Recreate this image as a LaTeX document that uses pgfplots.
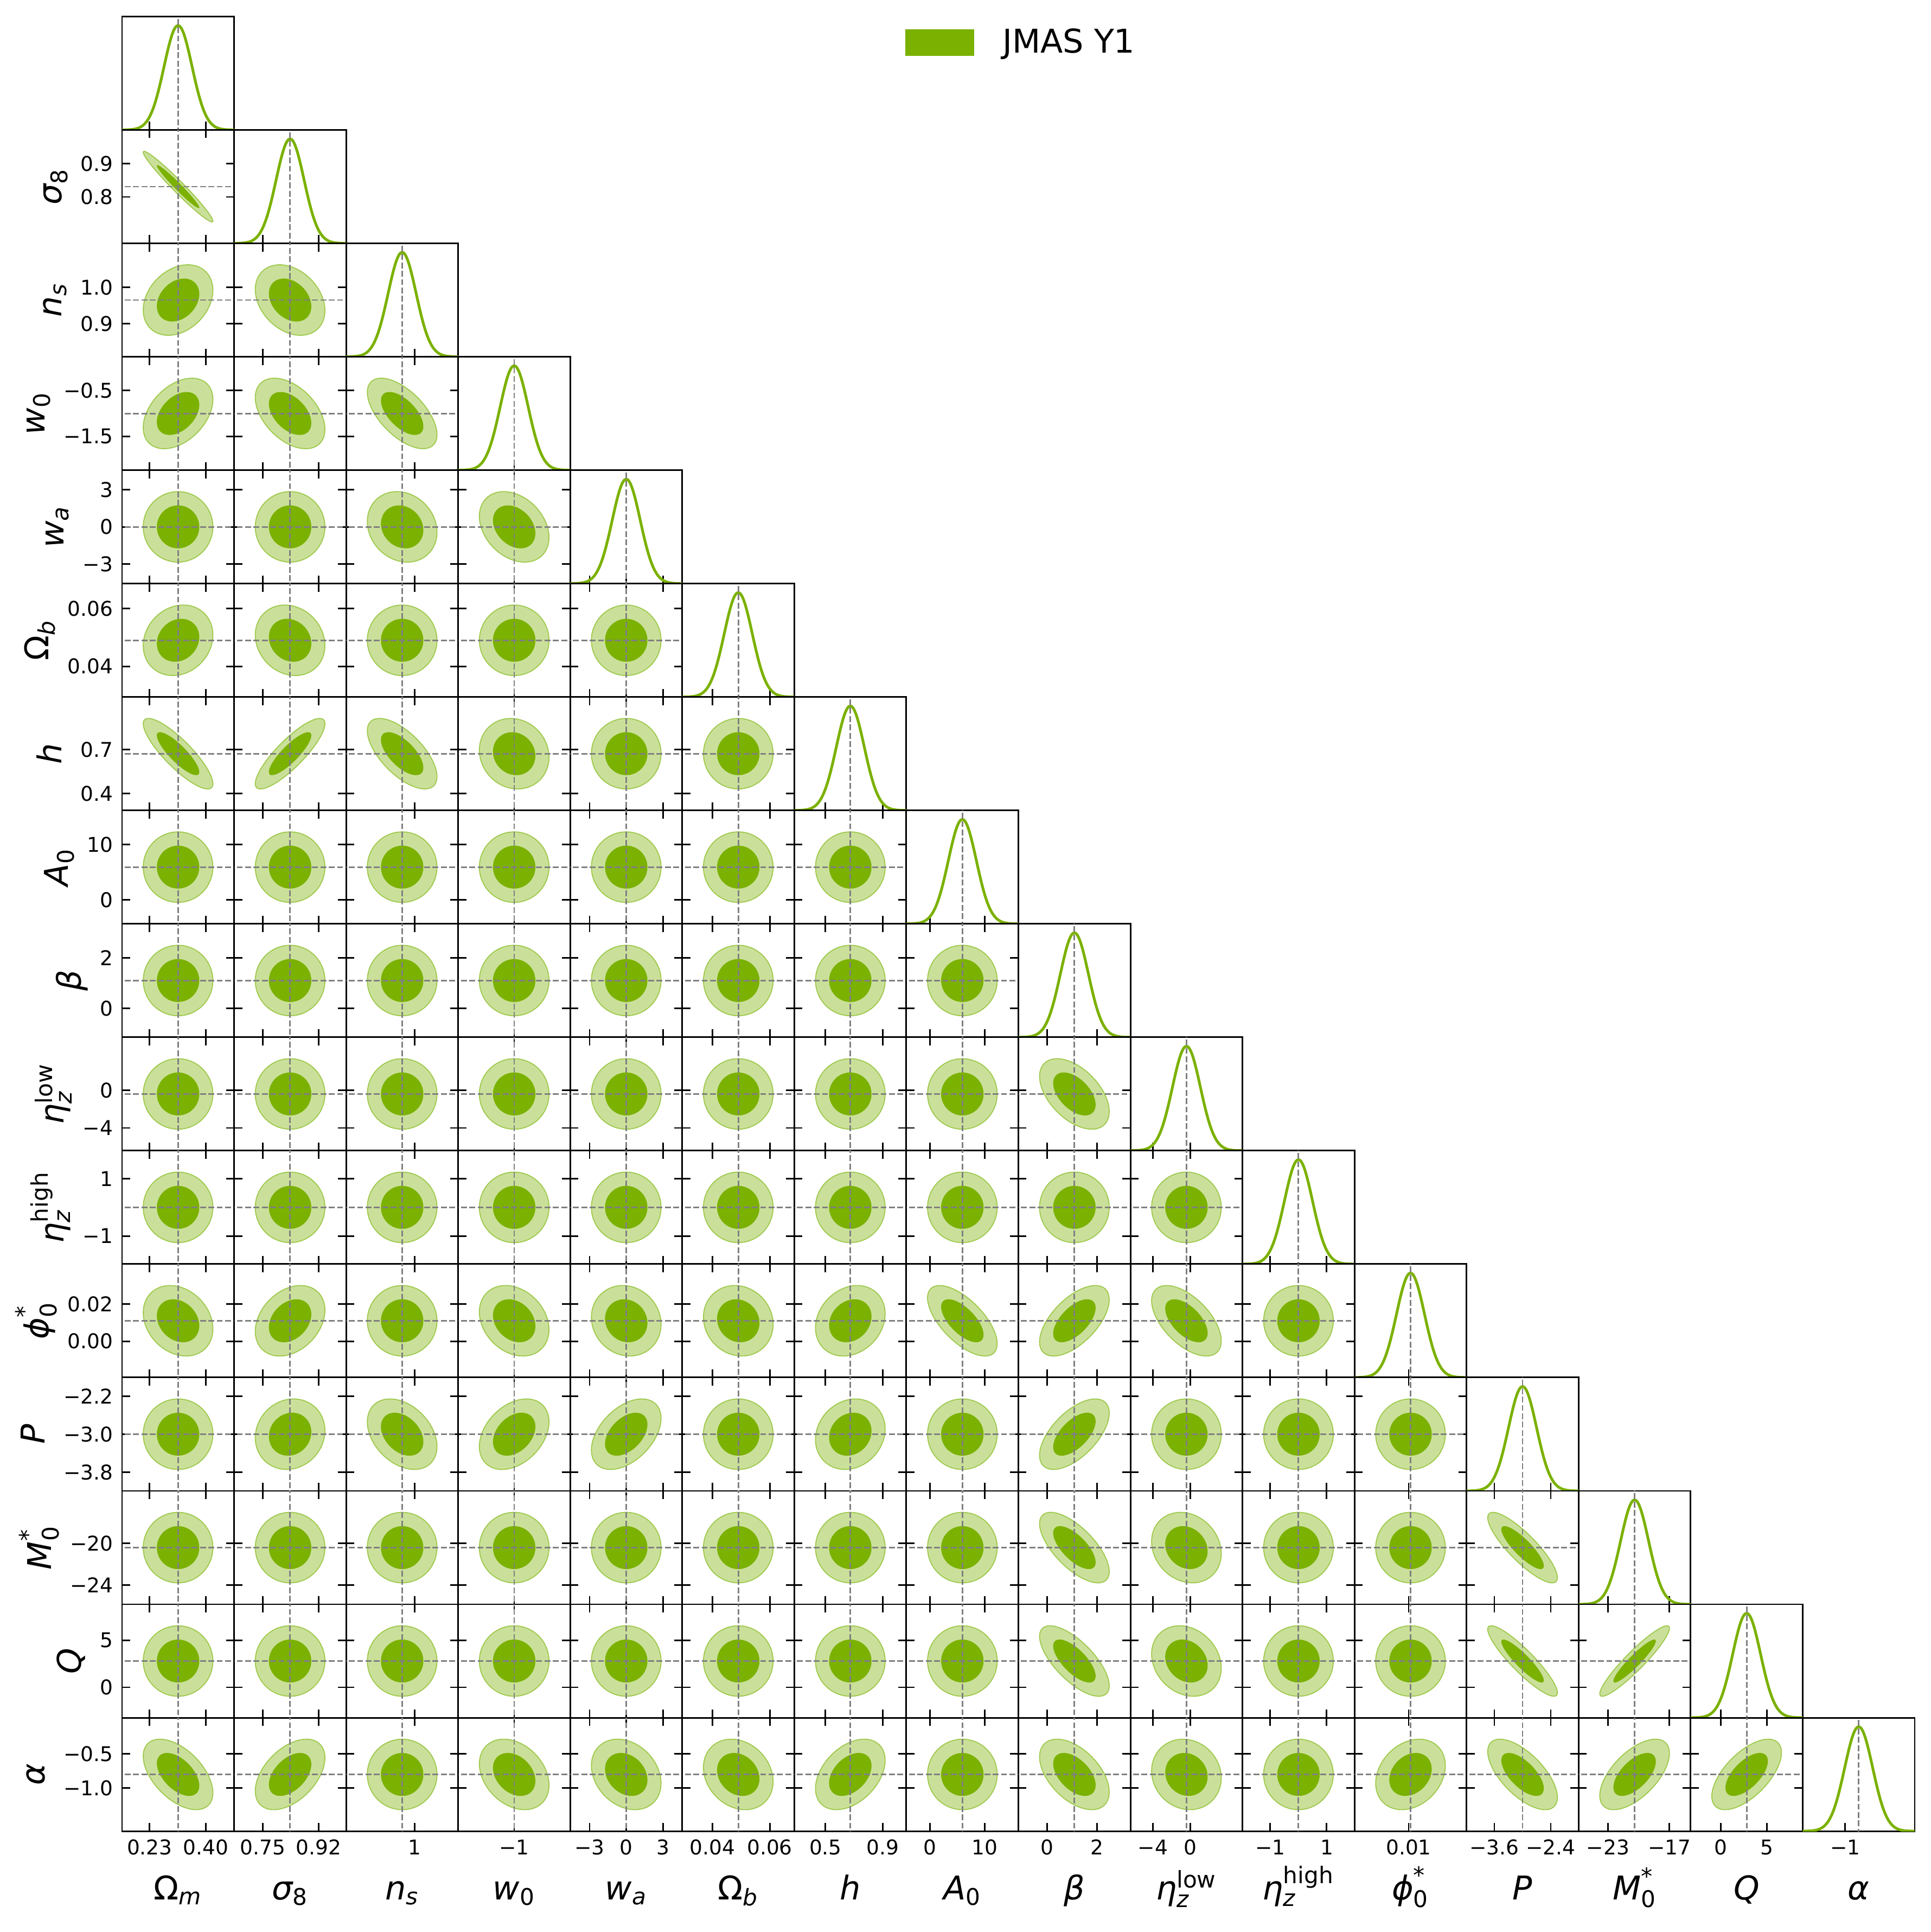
\documentclass[border=0pt]{standalone}
\usepackage{amsmath}
\usepackage{fontspec}
\setmainfont{DejaVu Sans}
\usepackage{pgfplots}
\usepackage{pgfplotstable}
\pgfplotsset{compat=1.18}

\definecolor{jg}{RGB}{123,177,0}
\definecolor{jgl}{RGB}{202,224,154}
\definecolor{jge}{RGB}{160,202,80}
\definecolor{tg}{RGB}{128,128,128}

\newcommand\mi[1]{\text{\itshape #1}}
\newcommand\mr[1]{\text{#1}}

% unit circle (for contour shapes)
\pgfplotstableread{
u v
1.0000 0.0000
0.9962 0.0872
0.9848 0.1736
0.9659 0.2588
0.9397 0.3420
0.9063 0.4226
0.8660 0.5000
0.8192 0.5736
0.7660 0.6428
0.7071 0.7071
0.6428 0.7660
0.5736 0.8192
0.5000 0.8660
0.4226 0.9063
0.3420 0.9397
0.2588 0.9659
0.1736 0.9848
0.0872 0.9962
0.0000 1.0000
-0.0872 0.9962
-0.1736 0.9848
-0.2588 0.9659
-0.3420 0.9397
-0.4226 0.9063
-0.5000 0.8660
-0.5736 0.8192
-0.6428 0.7660
-0.7071 0.7071
-0.7660 0.6428
-0.8192 0.5736
-0.8660 0.5000
-0.9063 0.4226
-0.9397 0.3420
-0.9659 0.2588
-0.9848 0.1736
-0.9962 0.0872
-1.0000 0.0000
-0.9962 -0.0872
-0.9848 -0.1736
-0.9659 -0.2588
-0.9397 -0.3420
-0.9063 -0.4226
-0.8660 -0.5000
-0.8192 -0.5736
-0.7660 -0.6428
-0.7071 -0.7071
-0.6428 -0.7660
-0.5736 -0.8192
-0.5000 -0.8660
-0.4226 -0.9063
-0.3420 -0.9397
-0.2588 -0.9659
-0.1736 -0.9848
-0.0872 -0.9962
0.0000 -1.0000
0.0872 -0.9962
0.1736 -0.9848
0.2588 -0.9659
0.3420 -0.9397
0.4226 -0.9063
0.5000 -0.8660
0.5736 -0.8192
0.6428 -0.7660
0.7071 -0.7071
0.7660 -0.6428
0.8192 -0.5736
0.8660 -0.5000
0.9063 -0.4226
0.9397 -0.3420
0.9659 -0.2588
0.9848 -0.1736
0.9962 -0.0872
1.0000 0.0000
}\circtab

% standardised 1D marginal shape
\pgfplotstableread{
u g
-4.0 0.00034
-3.8 0.00073
-3.6 0.00153
-3.4 0.00308
-3.2 0.00596
-3.0 0.01111
-2.9 0.01492
-2.8 0.01984
-2.7 0.02612
-2.6 0.03405
-2.5 0.04394
-2.4 0.05613
-2.3 0.07101
-2.2 0.08892
-2.1 0.11025
-2.0 0.13534
-1.9 0.16448
-1.8 0.19790
-1.7 0.23575
-1.6 0.27804
-1.5 0.32465
-1.4 0.37531
-1.3 0.42956
-1.2 0.48675
-1.1 0.54607
-1.0 0.60653
-0.9 0.66698
-0.8 0.72615
-0.7 0.78270
-0.6 0.83527
-0.5 0.88250
-0.4 0.92312
-0.3 0.95600
-0.2 0.98020
-0.1 0.99501
0.0 1.00000
0.1 0.99501
0.2 0.98020
0.3 0.95600
0.4 0.92312
0.5 0.88250
0.6 0.83527
0.7 0.78270
0.8 0.72615
0.9 0.66698
1.0 0.60653
1.1 0.54607
1.2 0.48675
1.3 0.42956
1.4 0.37531
1.5 0.32465
1.6 0.27804
1.7 0.23575
1.8 0.19790
1.9 0.16448
2.0 0.13534
2.1 0.11025
2.2 0.08892
2.3 0.07101
2.4 0.05613
2.5 0.04394
2.6 0.03405
2.7 0.02612
2.8 0.01984
2.9 0.01492
3.0 0.01111
3.2 0.00596
3.4 0.00308
3.6 0.00153
3.8 0.00073
4.0 0.00034
}\gausstab

\pgfplotstableread{
t d
-5 0
5 0
}\lintab

% parameter: index, fiducial (mean), sigma
\newcommand\defpar[3]{\expandafter\def\csname pm#1\endcsname{#2}\expandafter\def\csname ps#1\endcsname{#3}}
\defpar{0}{0.316}{0.0423}
\defpar{1}{0.831}{0.0425}
\defpar{2}{0.965}{0.039}
\defpar{3}{-1.0}{0.31}
\defpar{4}{0.0}{1.147}
\defpar{5}{0.049}{0.0049}
\defpar{6}{0.673}{0.0975}
\defpar{7}{5.92}{2.55}
\defpar{8}{1.1}{0.56}
\defpar{9}{-0.4}{1.5}
\defpar{10}{0.0}{0.496}
\defpar{11}{0.011}{0.0076}
\defpar{12}{-3.0}{0.298}
\defpar{13}{-20.4}{1.37}
\defpar{14}{2.8}{1.51}
\defpar{15}{-0.8}{0.2075}

% labels
\expandafter\def\csname lab0\endcsname{$\mr{Ω}_{\mi{m}}$}
\expandafter\def\csname lab1\endcsname{$\mi{σ}_{\mr{8}}$}
\expandafter\def\csname lab2\endcsname{$\mi{n}_{\mi{s}}$}
\expandafter\def\csname lab3\endcsname{$\mi{w}_{\mr{0}}$}
\expandafter\def\csname lab4\endcsname{$\mi{w}_{\mi{a}}$}
\expandafter\def\csname lab5\endcsname{$\mr{Ω}_{\mi{b}}$}
\expandafter\def\csname lab6\endcsname{$\mi{h}$}
\expandafter\def\csname lab7\endcsname{$\mi{A}_{\mr{0}}$}
\expandafter\def\csname lab8\endcsname{$\mi{β}$}
\expandafter\def\csname lab9\endcsname{$\mi{η}_{\mi{z}}^{\mr{low}}$}
\expandafter\def\csname lab10\endcsname{$\mi{η}_{\mi{z}}^{\mr{high}}$}
\expandafter\def\csname lab11\endcsname{$\mi{ϕ}_{\mr{0}}^{\mr{*}}$}
\expandafter\def\csname lab12\endcsname{$\mi{P}$}
\expandafter\def\csname lab13\endcsname{$\mi{M}_{\mr{0}}^{\mr{*}}$}
\expandafter\def\csname lab14\endcsname{$\mi{Q}$}
\expandafter\def\csname lab15\endcsname{$\mi{α}$}

% correlation coefficients (row, column)
\newcommand\setrho[3]{\expandafter\def\csname rho@#1@#2\endcsname{#3}}
\setrho{1}{0}{-0.975}
\setrho{2}{0}{0.28}\setrho{2}{1}{-0.3}
\setrho{3}{0}{0.4}\setrho{3}{1}{-0.45}\setrho{3}{2}{-0.6}
\setrho{4}{2}{-0.15}\setrho{4}{3}{-0.3}
\setrho{5}{0}{0.15}\setrho{5}{1}{-0.15}
\setrho{6}{0}{-0.85}\setrho{6}{1}{0.85}\setrho{6}{2}{-0.65}\setrho{6}{3}{-0.1}
\setrho{9}{8}{-0.5}
\setrho{11}{0}{-0.23}\setrho{11}{1}{0.3}\setrho{11}{3}{-0.25}\setrho{11}{4}{-0.1}\setrho{11}{5}{-0.1}\setrho{11}{6}{0.2}\setrho{11}{7}{-0.65}\setrho{11}{8}{0.6}\setrho{11}{9}{-0.57}
\setrho{12}{1}{0.1}\setrho{12}{2}{-0.35}\setrho{12}{3}{0.35}\setrho{12}{4}{0.45}\setrho{12}{6}{0.15}\setrho{12}{8}{0.6}
\setrho{13}{8}{-0.68}\setrho{13}{9}{-0.17}\setrho{13}{12}{-0.85}
\setrho{14}{8}{-0.7}\setrho{14}{9}{-0.2}\setrho{14}{12}{-0.9}\setrho{14}{13}{0.93}
\setrho{15}{0}{-0.52}\setrho{15}{1}{0.47}\setrho{15}{3}{-0.3}\setrho{15}{4}{-0.25}\setrho{15}{5}{-0.2}\setrho{15}{6}{0.4}\setrho{15}{8}{-0.5}\setrho{15}{9}{-0.1}\setrho{15}{11}{0.25}\setrho{15}{12}{-0.65}\setrho{15}{13}{0.6}\setrho{15}{14}{0.62}

\pgfplotsset{
 px0/.style={xmin=0.1468,xmax=0.4852,xtick={0.23,0.40}}, pxl0/.style={xticklabels={0.23,0.40}},
 px1/.style={xmin=0.661,xmax=1.001,xtick={0.748,0.918}}, pxl1/.style={xticklabels={0.75,0.92}},
 py1/.style={ymin=0.661,ymax=1.001,ytick={0.8,0.9}}, pyl1/.style={yticklabels={0.8,0.9}},
 px2/.style={xmin=0.809,xmax=1.121,xtick={1}}, pxl2/.style={xticklabels={1}},
 py2/.style={ymin=0.809,ymax=1.121,ytick={0.9,1.0}}, pyl2/.style={yticklabels={0.9,1.0}},
 px3/.style={xmin=-2.24,xmax=0.24,xtick={-1}}, pxl3/.style={xticklabels={−1}},
 py3/.style={ymin=-2.24,ymax=0.24,ytick={-1.5,-0.5}}, pyl3/.style={yticklabels={−1.5,−0.5}},
 px4/.style={xmin=-4.588,xmax=4.588,xtick={-3,0,3}}, pxl4/.style={xticklabels={−3,0,3}},
 py4/.style={ymin=-4.588,ymax=4.588,ytick={-3,0,3}}, pyl4/.style={yticklabels={−3,0,3}},
 px5/.style={xmin=0.0294,xmax=0.0686,xtick={0.04,0.06}}, pxl5/.style={xticklabels={0.04,0.06}},
 py5/.style={ymin=0.0294,ymax=0.0686,ytick={0.04,0.06}}, pyl5/.style={yticklabels={0.04,0.06}},
 px6/.style={xmin=0.283,xmax=1.063,xtick={0.5,0.9}}, pxl6/.style={xticklabels={0.5,0.9}},
 py6/.style={ymin=0.283,ymax=1.063,ytick={0.4,0.7}}, pyl6/.style={yticklabels={0.4,0.7}},
 px7/.style={xmin=-4.28,xmax=16.12,xtick={0,10}}, pxl7/.style={xticklabels={0,10}},
 py7/.style={ymin=-4.28,ymax=16.12,ytick={0,10}}, pyl7/.style={yticklabels={0,10}},
 px8/.style={xmin=-1.14,xmax=3.34,xtick={0,2}}, pxl8/.style={xticklabels={0,2}},
 py8/.style={ymin=-1.14,ymax=3.34,ytick={0,2}}, pyl8/.style={yticklabels={0,2}},
 px9/.style={xmin=-6.4,xmax=5.6,xtick={-4,0}}, pxl9/.style={xticklabels={−4,0}},
 py9/.style={ymin=-6.4,ymax=5.6,ytick={-4,0}}, pyl9/.style={yticklabels={−4,0}},
 px10/.style={xmin=-1.984,xmax=1.984,xtick={-1,1}}, pxl10/.style={xticklabels={−1,1}},
 py10/.style={ymin=-1.984,ymax=1.984,ytick={-1,1}}, pyl10/.style={yticklabels={−1,1}},
 px11/.style={xmin=-0.0194,xmax=0.0414,xtick={0.01}}, pxl11/.style={xticklabels={0.01}},
 py11/.style={ymin=-0.0194,ymax=0.0414,ytick={0,0.02}}, pyl11/.style={yticklabels={0.00,0.02}},
 px12/.style={xmin=-4.192,xmax=-1.808,xtick={-3.6,-2.4}}, pxl12/.style={xticklabels={−3.6,−2.4}},
 py12/.style={ymin=-4.192,ymax=-1.808,ytick={-3.8,-3.0,-2.2}}, pyl12/.style={yticklabels={−3.8,−3.0,−2.2}},
 px13/.style={xmin=-25.88,xmax=-14.92,xtick={-23,-17}}, pxl13/.style={xticklabels={−23,−17}},
 py13/.style={ymin=-25.88,ymax=-14.92,ytick={-24,-20}}, pyl13/.style={yticklabels={−24,−20}},
 px14/.style={xmin=-3.24,xmax=8.84,xtick={0,5}}, pxl14/.style={xticklabels={0,5}},
 py14/.style={ymin=-3.24,ymax=8.84,ytick={0,5}}, pyl14/.style={yticklabels={0,5}},
 px15/.style={xmin=-1.63,xmax=0.03,xtick={-1}}, pxl15/.style={xticklabels={−1}},
 py15/.style={ymin=-1.63,ymax=0.03,ytick={-1.0,-0.5}}, pyl15/.style={yticklabels={−1.0,−0.5}},
 cpanel/.style={
  scale only axis, width=49.574pt, height=50.17pt, anchor=north west,
  axis line style={line width=0.7pt},
  tick align=inside, major tick length=3.6pt,
  tick style={black, line width=0.7pt},
  minor tick num=0, scaled ticks=false, clip=true,
  tick label style={font=\fontsize{9}{11}\selectfont},
  xticklabel style={inner sep=0pt, anchor=north, yshift=-3.6pt},
  yticklabel style={inner sep=0pt, anchor=east, xshift=-3.84pt},
  label style={font=\fontsize{14.5}{17}\selectfont},
  xlabel style={at={(axis description cs:0.5,-0.6028)}, anchor=base},
  ylabel style={at={(ticklabel cs:0.5)}, anchor=base, inner sep=0pt},
  ylabel shift=8.4pt,
  legend style={at={(axis description cs:6.991,0.7697)}, anchor=west, draw=none, fill=none,
    inner sep=0pt, outer sep=0pt, font=\fontsize{14.5}{17}\selectfont,
    /tikz/every odd column/.append style={column sep=10.6pt}},
 },
 ell/.style={mark=none, forget plot},
 truth/.style={tg, line width=0.7pt, dash pattern=on 2.6pt off 1.1pt, mark=none, forget plot},
}

\begin{document}
\begin{tikzpicture}
\useasboundingbox (0,0) rectangle (854.4pt,-854.64pt);
\foreach \ri in {0,...,15}{%
 \foreach \ci in {0,...,\ri}{%
  \edef\mC{\csname pm\ci\endcsname}%
  \edef\sC{\csname ps\ci\endcsname}%
  \edef\mR{\csname pm\ri\endcsname}%
  \edef\sR{\csname ps\ri\endcsname}%
  \pgfmathsetmacro\xpos{54.0+\ci*49.574}%
  \pgfmathsetmacro\ypos{-7.296-\ri*50.17}%
  \ifnum\ri=15
    \edef\tmp{\noexpand\pgfplotsset{xsty/.style={px\ci,pxl\ci,xlabel={\noexpand\csname lab\ci\noexpand\endcsname}}}}%
  \else
    \edef\tmp{\noexpand\pgfplotsset{xsty/.style={px\ci,xticklabels={}}}}%
  \fi
  \tmp
  \ifnum\ri=\ci
    \pgfplotsset{ysty/.style={ymin=0,ymax=1.086,ytick=\empty}}%
    \begin{axis}[cpanel, at={(\xpos pt,\ypos pt)}, xsty, ysty, xtick pos=left]
      \ifnum\ri=0
        \addlegendimage{legend image code/.code={\fill[jg] (0pt,-5.64pt) rectangle (30pt,5.64pt);}}
        \addlegendentry{JMAS Y1}
      \fi
      \addplot[jg, line width=1.2pt, smooth, mark=none, forget plot]
        table[x expr={\mC+\sC*\thisrow{u}}, y expr={\thisrow{g}}] {\gausstab};
      \addplot[truth] table[x expr={\mC}, y expr={\thisrow{t}}] {\lintab};
    \end{axis}
  \else
    \ifnum\ci=0
      \edef\tmp{\noexpand\pgfplotsset{ysty/.style={py\ri,pyl\ri,ylabel={\noexpand\csname lab\ri\noexpand\endcsname}}}}%
    \else
      \edef\tmp{\noexpand\pgfplotsset{ysty/.style={py\ri,yticklabels={}}}}%
    \fi
    \tmp
    \ifcsname rho@\ri @\ci\endcsname
      \edef\rh{\csname rho@\ri @\ci\endcsname}%
    \else
      \def\rh{0}%
    \fi
    \pgfmathsetmacro\sq{sqrt(1-(\rh)*(\rh))}%
    \begin{axis}[cpanel, at={(\xpos pt,\ypos pt)}, xsty, ysty]
      \addplot[ell, fill=jgl, draw=jge, line width=0.45pt]
        table[x expr={\mC+2.486*\sC*\thisrow{u}}, y expr={\mR+2.486*\sR*((\rh)*\thisrow{u}+\sq*\thisrow{v})}] {\circtab};
      \addplot[ell, fill=jg, draw=none]
        table[x expr={\mC+1.515*\sC*\thisrow{u}}, y expr={\mR+1.515*\sR*((\rh)*\thisrow{u}+\sq*\thisrow{v})}] {\circtab};
      \addplot[truth] table[x expr={\mC}, y expr={\mR+\sR*\thisrow{t}}] {\lintab};
      \addplot[truth] table[x expr={\mC+\sC*\thisrow{t}}, y expr={\mR}] {\lintab};
    \end{axis}
  \fi
 }%
}
\end{tikzpicture}
\end{document}
